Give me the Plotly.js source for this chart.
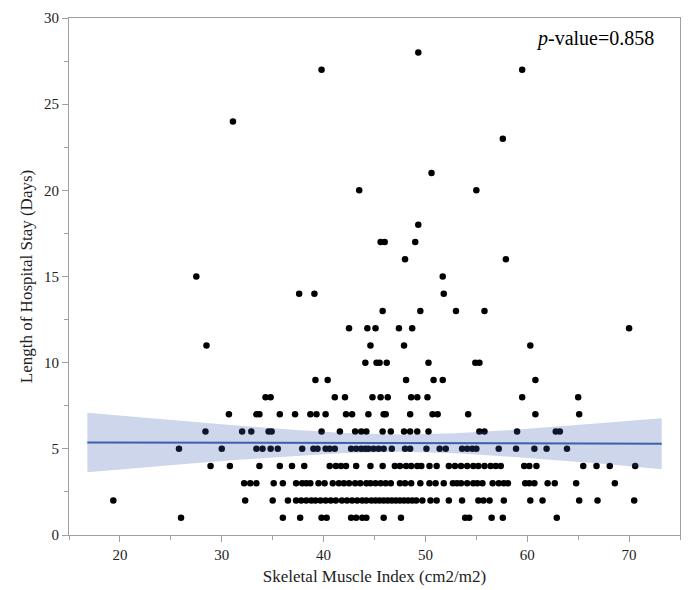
<!DOCTYPE html>
<html>
<head>
<meta charset="utf-8">
<script src="https://cdn.plot.ly/plotly-3.0.1.min.js"></script>
<style>html,body{margin:0;padding:0;background:#fff}#chart{width:690px;height:590px}</style>
</head>
<body>
<div id="chart"></div>
<script>
// Skeletal Muscle Index values for each Length of Stay (days)
const stay1  = [26.0, 36.0, 37.7, 39.8, 40.3, 42.7, 43.2, 43.8, 44.2, 45.9, 47.6, 53.9, 54.3, 56.5, 57.6, 62.9];
const stay2  = [19.35, 32.3, 35.0, 36.5, 37.3, 37.8, 38.3, 38.8, 39.2, 39.7, 40.2, 40.7, 41.2, 41.8, 42.3, 42.8, 43.3, 43.8, 44.2, 44.7, 45.1, 45.5, 45.9, 46.3, 46.7, 47.1, 47.5, 47.9, 48.3, 48.7, 49.1, 49.7, 50.5, 51.1, 52.3, 53.6, 55.2, 55.7, 56.3, 57.7, 60.3, 61.5, 65.1, 66.9, 70.5];
const stay3  = [32.2, 32.8, 33.4, 35.1, 36.0, 37.3, 37.9, 38.3, 38.7, 39.5, 40.1, 40.9, 41.5, 42.0, 42.5, 43.1, 43.6, 44.2, 44.6, 45.1, 45.6, 46.1, 46.6, 47.5, 48.0, 48.6, 49.5, 50.4, 51.0, 51.8, 52.7, 53.1, 53.5, 54.1, 54.7, 55.1, 55.6, 56.6, 57.2, 57.7, 58.1, 59.8, 60.2, 60.7, 62.0, 62.7, 64.8, 68.6];
const stay4  = [28.9, 30.8, 33.7, 35.7, 36.9, 38.1, 40.6, 41.2, 41.7, 42.2, 43.2, 44.6, 45.8, 47.0, 47.5, 48.1, 48.6, 49.2, 49.6, 50.4, 51.1, 52.3, 52.9, 53.5, 54.1, 54.7, 55.2, 55.8, 56.4, 56.9, 57.4, 59.7, 60.2, 60.9, 65.5, 66.8, 68.1, 70.6];
const stay5  = [25.8, 30.0, 33.4, 34.0, 34.8, 35.5, 37.9, 39.0, 39.4, 40.2, 40.6, 41.1, 42.7, 43.2, 43.7, 44.1, 44.4, 44.9, 45.4, 45.9, 46.7, 48.0, 48.5, 50.1, 51.4, 52.0, 53.6, 54.1, 54.6, 55.0, 57.2, 58.9, 60.7, 61.9, 63.9];
const stay6  = [28.4, 32.0, 32.9, 34.6, 34.9, 39.8, 41.6, 43.1, 43.7, 44.2, 45.8, 46.6, 47.9, 48.5, 49.2, 50.3, 55.3, 55.8, 59.0, 62.8, 63.2];
const stay7  = [30.7, 33.4, 33.7, 35.7, 37.2, 38.7, 39.3, 40.2, 42.2, 42.8, 44.4, 45.9, 46.1, 48.5, 50.7, 51.2, 54.2, 60.8, 65.1];
const stay8  = [34.3, 34.8, 41.1, 42.1, 44.8, 45.6, 46.3, 48.6, 49.2, 50.2, 59.5, 65.0];
const stay9  = [39.2, 40.4, 48.1, 50.8, 51.7, 60.8];
const stay10 = [44.1, 45.2, 45.5, 46.2, 50.3, 54.9, 55.3];
const stay11 = [28.5, 44.6, 47.9, 60.3];
const stay12 = [42.5, 44.3, 45.1, 47.4, 48.7, 70.0];
const stay13 = [45.8, 49.5, 53.0, 55.8];
const stay14 = [37.6, 39.1, 51.8];
const stay15 = [27.5, 51.7];
const stay16 = [48.0, 57.9];
const stay17 = [45.6, 46.0, 49.0];
const stay18 = [49.3];
const stay20 = [43.5, 55.0];
const stay21 = [50.6];
const stay23 = [57.6];
const stay24 = [31.1];
const stay27 = [39.8, 59.5];
const stay28 = [49.3];

const groups = [
  [1, stay1], [2, stay2], [3, stay3], [4, stay4], [5, stay5], [6, stay6], [7, stay7],
  [8, stay8], [9, stay9], [10, stay10], [11, stay11], [12, stay12], [13, stay13],
  [14, stay14], [15, stay15], [16, stay16], [17, stay17], [18, stay18], [20, stay20],
  [21, stay21], [23, stay23], [24, stay24], [27, stay27], [28, stay28]
];

// Fit line and confidence band
const fitX     = [16.8, 22, 27, 32, 37, 42, 47.5, 53, 58, 63, 68, 73.2];
const fitY     = [5.37, 5.36, 5.36, 5.35, 5.35, 5.34, 5.33, 5.33, 5.32, 5.31, 5.31, 5.30];
const bandUp   = [7.10, 6.83, 6.58, 6.33, 6.11, 5.92, 5.83, 5.91, 6.08, 6.29, 6.53, 6.78];
const bandLow  = [3.64, 3.90, 4.15, 4.38, 4.59, 4.76, 4.83, 4.75, 4.56, 4.34, 4.10, 3.82];

const xTicks = [20, 30, 40, 50, 60, 70];
const yTicks = [0, 5, 10, 15, 20, 25, 30];
const pText = '<i>p</i>-value=0.858';

const px = [], py = [];
groups.forEach(g => g[1].forEach(v => { px.push(v); py.push(g[0]); }));

const serif = 'Liberation Serif, Times New Roman, serif';

const traces = [
  {
    type: 'scatter', mode: 'markers', x: px, y: py,
    marker: {color: '#000', size: 6.5}, hoverinfo: 'x+y', showlegend: false
  },
  {
    type: 'scatter', mode: 'lines', x: fitX.concat(fitX.slice().reverse()),
    y: bandUp.concat(bandLow.slice().reverse()),
    fill: 'toself', fillcolor: 'rgba(55,91,171,0.25)', line: {width: 0},
    hoverinfo: 'skip', showlegend: false
  },
  {
    type: 'scatter', mode: 'lines', x: fitX, y: fitY,
    line: {color: '#3c5fae', width: 2}, hoverinfo: 'skip', showlegend: false
  }
];

const layout = {
  width: 690, height: 590,
  margin: {l: 69, r: 10, t: 18, b: 55},
  paper_bgcolor: '#fff', plot_bgcolor: '#fff',
  font: {family: serif, color: '#222'},
  xaxis: {
    range: [15, 75], tickvals: xTicks, ticktext: xTicks.map(String),
    showgrid: false, zeroline: false, showline: true, linecolor: '#a0a0a0', linewidth: 1,
    mirror: true, ticks: 'outside', ticklen: 6, tickcolor: '#a0a0a0',
    minor: {dtick: 5, tick0: 15, ticks: 'outside', ticklen: 4, tickcolor: '#a0a0a0', showgrid: false},
    tickfont: {size: 15, family: serif, color: '#222'},
    title: {text: 'Skeletal Muscle Index (cm2/m2)', font: {size: 17, family: serif, color: '#222'}, standoff: 8}
  },
  yaxis: {
    range: [0, 30], tickvals: yTicks, ticktext: yTicks.map(String),
    showgrid: false, zeroline: false, showline: true, linecolor: '#a0a0a0', linewidth: 1,
    mirror: true, ticks: 'outside', ticklen: 6, tickcolor: '#a0a0a0',
    minor: {dtick: 2.5, tick0: 0, ticks: 'outside', ticklen: 4, tickcolor: '#a0a0a0', showgrid: false},
    tickfont: {size: 15, family: serif, color: '#222'},
    title: {text: 'Length of Hospital Stay (Days)', font: {size: 17, family: serif, color: '#222'}, standoff: 7}
  },
  annotations: [{
    xref: 'paper', yref: 'y', x: 0.96, y: 28.8, xanchor: 'right', yanchor: 'middle',
    text: pText, showarrow: false, font: {size: 20, family: serif, color: '#000'}
  }]
};

Plotly.newPlot('chart', traces, layout, {displayModeBar: false, staticPlot: true});
</script>
</body>
</html>
